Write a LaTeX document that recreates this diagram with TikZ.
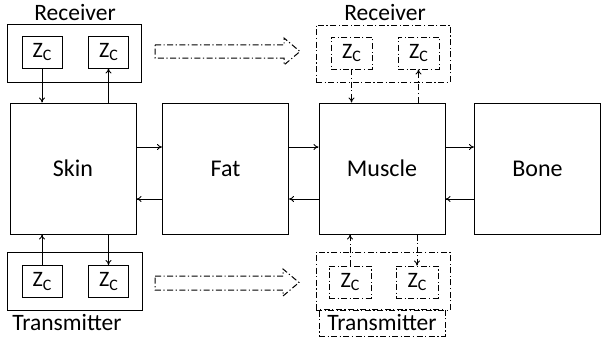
\documentclass[tikz,border=0pt]{standalone}
\usepackage{fontspec}
\setmainfont{Carlito}
\usetikzlibrary{arrows.meta}
\newcommand{\zcc}{Z\raisebox{-0.35ex}{\fontsize{16}{16}\selectfont C}}
\begin{document}
\begin{tikzpicture}[x=1pt,y=-1pt,
 layer/.style={draw,line width=1pt,minimum width=126pt,minimum height=131pt,inner sep=0pt,font=\fontsize{24}{24}\selectfont},
 zc/.style={draw,line width=0.9pt,minimum width=40pt,minimum height=32pt,inner sep=0pt,font=\fontsize{22}{22}\selectfont},
 group/.style={draw,line width=0.9pt,inner sep=0pt},
 dd/.style={dash pattern=on 6pt off 2.5pt on 1.2pt off 2.5pt},
 lbl/.style={font=\fontsize{23.5}{23.5}\selectfont,inner sep=0pt},
 arr/.style={-{To[length=5pt,width=6pt]},line width=0.9pt},
 blk/.style={dd,line width=1pt},
]
\useasboundingbox (0,0) rectangle (601,345);
% main layers
\node[layer] (skin) at (73,168.5) {Skin};
\node[layer] (fat) at (225.5,168.5) {Fat};
\node[layer] (muscle) at (382,168.5) {Muscle};
\node[layer] (bone) at (537.5,168.5) {Bone};
\coordinate (yr) at (0,147);
\coordinate (yl) at (0,199);
\draw[arr] (skin.east |- yr) -- (fat.west |- yr);
\draw[arr] (fat.east |- yr) -- (muscle.west |- yr);
\draw[arr] (muscle.east |- yr) -- (bone.west |- yr);
\draw[arr] (fat.west |- yl) -- (skin.east |- yl);
\draw[arr] (muscle.west |- yl) -- (fat.east |- yl);
\draw[arr] (bone.west |- yl) -- (muscle.east |- yl);
% left receiver
\node[lbl] (rxLl) at (75,12) {Receiver};
\node[group,minimum width=134pt,minimum height=58pt] (rxL) at (74,53) {};
\node[zc] (zc1) at (42,52) {\zcc};
\node[zc] (zc2) at (108.5,52) {\zcc};
\draw[arr] (zc1.south) -- (zc1.south |- skin.north);
\draw[arr] (zc2.south |- skin.north) -- (zc2.south);
% left transmitter
\node[group,minimum width=135pt,minimum height=58pt] (txL) at (74.5,281) {};
\node[zc] (zc3) at (42,281.5) {\zcc};
\node[zc] (zc4) at (108.5,281.5) {\zcc};
\node[lbl] (txLl) at (67,322) {Transmitter};
\draw[arr] (zc3.north) -- (zc3.north |- skin.south);
\draw[arr] (zc4.north |- skin.south) -- (zc4.north);
% block arrows
\draw[blk] (155,45) -- (284,45) -- (284,38) -- (300,51.5) -- (284,65) -- (284,58) -- (155,58) -- cycle;
\draw[blk] (155,276) -- (283,276) -- (283,269) -- (299,282.5) -- (283,296) -- (283,290) -- (155,290) -- cycle;
% right receiver
\node[lbl] (rxRl) at (385,12) {Receiver};
\node[group,dd,minimum width=134pt,minimum height=57pt] (rxR) at (383,53.5) {};
\node[zc,dd,minimum width=41pt] (zr1) at (351.5,53) {\zcc};
\node[zc,dd,minimum width=41pt] (zr2) at (418.5,53) {\zcc};
\draw[arr,dd] (zr1.south) -- (zr1.south |- muscle.north);
\draw[arr,dd] (zr2.south |- muscle.north) -- (zr2.south);
% right transmitter
\node[group,dd,minimum width=134pt,minimum height=58pt] (txR) at (383,281) {};
\node[zc,dd,minimum width=42pt] (zr3) at (350,282) {\zcc};
\node[zc,dd,minimum width=42pt] (zr4) at (417,282) {\zcc};
\node[lbl,draw,dd,line width=0.9pt,minimum width=126pt,minimum height=27pt] (txRl) at (382,322.5) {Transmitter};
\draw[arr,dd] (zr3.north) -- (zr3.north |- muscle.south);
\draw[arr,dd] (zr4.north |- muscle.south) -- (zr4.north);
\end{tikzpicture}
\end{document}
